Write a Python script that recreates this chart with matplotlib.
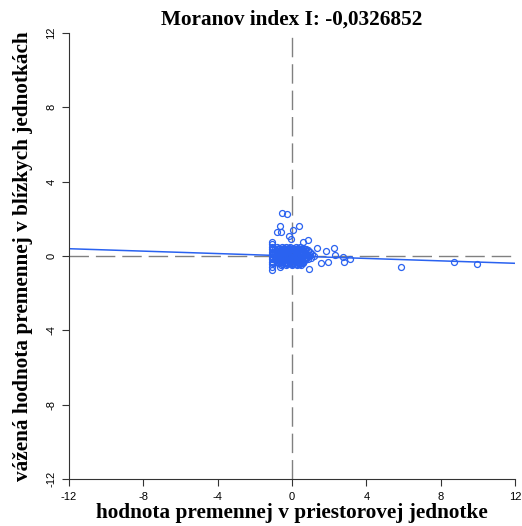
import numpy as np
import matplotlib.pyplot as plt

# spatial value (x) and spatially lagged value (y)
x_vals = [
    # outliers
    -0.54, -0.27, -0.65, -0.8, -0.59, 0.05, 0.38, -0.16, -0.05, 0.86, 0.59,
    1.34, 1.83, 2.26, 2.3, 2.74, 3.1, 2.8, 1.94, 1.56, -1.08, 0.91, -0.65,
    5.86, 8.7, 9.95,
    # left column
    -1.08, -1.08, -1.08, -1.08, -1.08, -1.08, -1.08, -1.08, -1.08, -1.08, -1.08,
    -1.0, -1.0, -1.0, -1.0,
    # cluster
    -0.8, -0.55, -0.3, -0.1, 0.2, 0.45,
    -0.9, -0.7, -0.45, -0.2, 0.05, 0.3, 0.55, 0.75,
    -0.85, -0.6, -0.35, -0.15, 0.1, 0.35, 0.6, 0.85,
    -0.95, -0.75, -0.5, -0.25, 0.0, 0.2, 0.45, 0.7, 0.95,
    -0.9, -0.65, -0.4, -0.2, 0.05, 0.25, 0.5, 0.8, 1.05,
    -0.95, -0.7, -0.45, -0.3, -0.1, 0.15, 0.4, 0.65, 0.9, 1.2,
    -0.85, -0.6, -0.35, -0.15, 0.1, 0.3, 0.55, 0.75, 1.0,
    -0.9, -0.7, -0.5, -0.25, 0.0, 0.2, 0.45, 0.7,
    -0.8, -0.55, -0.3, -0.05, 0.15, 0.4, 0.6,
    -0.75, -0.45, -0.2, 0.05, 0.3, 0.55,
    -0.6, -0.3, 0.0, 0.25, 0.5,
    # cluster, in between
    -0.7, -0.42, -0.18, 0.08, 0.32, 0.58,
    -0.78, -0.52, -0.28, -0.05, 0.22, 0.46, 0.68,
    -0.82, -0.58, -0.32, -0.08, 0.18, 0.42, 0.66, 0.88,
    -0.8, -0.55, -0.3, -0.02, 0.22, 0.48, 0.72, 0.98,
    -0.78, -0.52, -0.22, 0.02, 0.28, 0.52, 0.82,
    -0.8, -0.58, -0.38, -0.08, 0.18, 0.42, 0.62, 0.86,
    -0.65, -0.4, -0.12, 0.12, 0.36, 0.58,
    -0.52, -0.25, 0.02, 0.28, 0.45,
]
y_vals = [
    2.33, 2.28, 1.63, 1.3, 1.3, 1.41, 1.63, 1.08, 0.92, 0.87, 0.76,
    0.43, 0.27, 0.43, 0.05, -0.05, -0.16, -0.32, -0.32, -0.38, -0.76, -0.7, -0.6,
    -0.6, -0.32, -0.43,
    0.78, 0.62, 0.48, 0.35, 0.22, 0.1, -0.05, -0.18, -0.3, -0.45, -0.6,
    0.4, 0.15, -0.1, -0.35,
    0.5, 0.5, 0.5, 0.5, 0.5, 0.5,
    0.4, 0.4, 0.4, 0.4, 0.4, 0.4, 0.4, 0.4,
    0.3, 0.3, 0.3, 0.3, 0.3, 0.3, 0.3, 0.3,
    0.2, 0.2, 0.2, 0.2, 0.2, 0.2, 0.2, 0.2, 0.2,
    0.1, 0.1, 0.1, 0.1, 0.1, 0.1, 0.1, 0.1, 0.1,
    0.0, 0.0, 0.0, 0.0, 0.0, 0.0, 0.0, 0.0, 0.0, 0.0,
    -0.1, -0.1, -0.1, -0.1, -0.1, -0.1, -0.1, -0.1, -0.1,
    -0.2, -0.2, -0.2, -0.2, -0.2, -0.2, -0.2, -0.2,
    -0.3, -0.3, -0.3, -0.3, -0.3, -0.3, -0.3,
    -0.4, -0.4, -0.4, -0.4, -0.4, -0.4,
    -0.5, -0.5, -0.5, -0.5, -0.5,
    0.45, 0.45, 0.45, 0.45, 0.45, 0.45,
    0.35, 0.35, 0.35, 0.35, 0.35, 0.35, 0.35,
    0.25, 0.25, 0.25, 0.25, 0.25, 0.25, 0.25, 0.25,
    0.05, 0.05, 0.05, 0.05, 0.05, 0.05, 0.05, 0.05,
    -0.05, -0.05, -0.05, -0.05, -0.05, -0.05, -0.05,
    -0.15, -0.15, -0.15, -0.15, -0.15, -0.15, -0.15, -0.15,
    -0.35, -0.35, -0.35, -0.35, -0.35, -0.35,
    -0.45, -0.45, -0.45, -0.45, -0.45,
]
moran_i = -0.0326852
ticks = [-12, -8, -4, 0, 4, 8, 12]

blue = '#2a62f0'
serif = 'Liberation Serif'
sans = 'Liberation Sans'

fig = plt.figure(figsize=(5.22, 5.26), dpi=100)
ax = fig.add_axes([69/522, 47/526, 446/522, 446/526])

ax.axvline(0, color='#808080', lw=1, dashes=(14, 5))
ax.axhline(0, color='#808080', lw=1, dashes=(14, 5))

line_x = np.array([-12, 12])
ax.plot(line_x, moran_i * line_x, color=blue, lw=1.1)
ax.plot(x_vals, y_vals, 'o', mfc='none', mec=blue, ms=4.3, mew=0.9)

ax.set_xlim(-12, 12)
ax.set_ylim(-12, 12)
ax.set_xticks(ticks)
ax.set_yticks(ticks)
ax.set_xticklabels([str(t) for t in ticks], fontsize=8, family=sans)
ax.set_yticklabels([str(t) for t in ticks], fontsize=8, family=sans,
                   rotation=90, va='center')
ax.tick_params(length=5, width=0.8, color='#333333', pad=4)

for s in ['top', 'right']:
    ax.spines[s].set_visible(False)
for s in ['left', 'bottom']:
    ax.spines[s].set_linewidth(0.8)
    ax.spines[s].set_color('#333333')

ax.set_title('Moranov index I: -0,0326852', fontsize=15.3, family=serif,
             fontweight='bold', pad=6)
ax.set_xlabel('hodnota premennej v priestorovej jednotke', fontsize=15.3,
              family=serif, fontweight='bold', labelpad=1)
ax.set_ylabel('vážená hodnota premennej v blízkych jednotkách', fontsize=15.3,
              family=serif, fontweight='bold', labelpad=10)

fig.savefig('out.png', dpi=100)
